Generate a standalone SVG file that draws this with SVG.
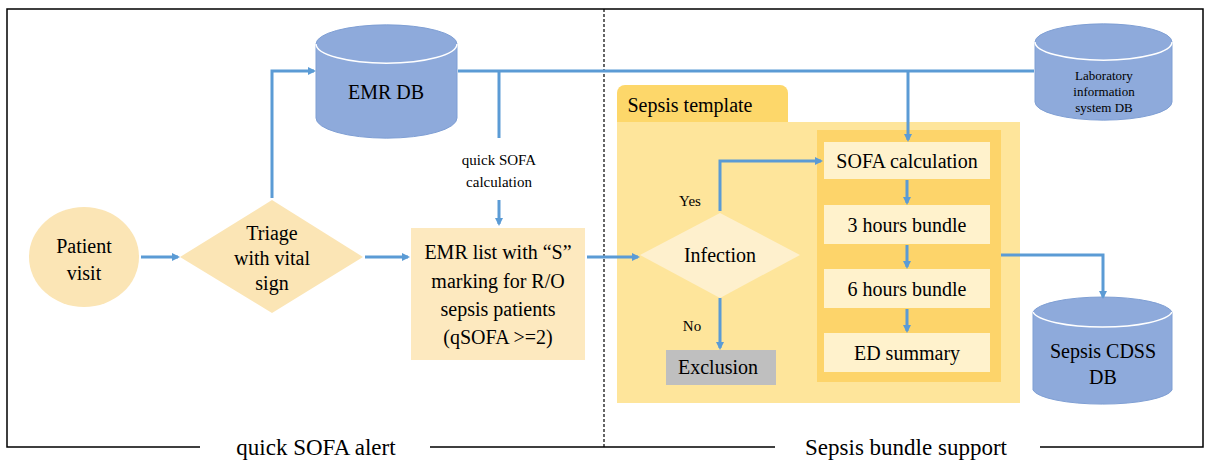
<svg xmlns="http://www.w3.org/2000/svg" width="1214" height="469" viewBox="0 0 1214 469" font-family="'Liberation Serif', 'Times New Roman', 'DejaVu Serif', serif">
<defs>
<marker id="ah" markerWidth="8" markerHeight="8" refX="6" refY="4" orient="auto" markerUnits="userSpaceOnUse"><path d="M0,0 L8,4 L0,8 Z" fill="#5b9bd5"/></marker>
<style>
text{font-family:'Liberation Serif','Times New Roman','DejaVu Serif',serif;fill:#000;text-anchor:middle}
.c{fill:none;stroke:#5b9bd5;stroke-width:3}
.db{fill:#8eaadb;stroke:#7f9fd4}
.t18{font-size:20px}
</style>
</defs>
<rect width="1214" height="469" fill="#fff"/>
<path d="M200,447 H7 V9 H1203 V447 H1040 M775,447 H430" fill="none" stroke="#000" stroke-width="1.5"/>
<line x1="604" y1="9" x2="604" y2="447" stroke="#000" stroke-width="1.2" stroke-dasharray="3,2"/>
<text x="316" y="455" font-size="23">quick SOFA alert</text>
<text x="906" y="455" font-size="23">Sepsis bundle support</text>
<g id="template">
<rect x="617" y="85" width="171" height="45" rx="8" fill="#fdd76a"/>
<rect x="617" y="122" width="403" height="281" fill="#fee59b"/>
<text x="690" y="112" font-size="20">Sepsis template</text>
<rect x="817" y="130" width="184" height="252" fill="#fdd46a"/>
</g>
<g id="patient"><ellipse cx="84" cy="257" rx="55" ry="50" fill="#fbe5b5"/><text x="84" y="253" class="t18">Patient</text><text x="84" y="280" class="t18">visit</text></g>
<g id="triage"><polygon points="272,200 363,257 272,313 180,257" fill="#fbe5b5"/><text x="272" y="240" class="t18">Triage</text><text x="272" y="265" class="t18">with vital</text><text x="272" y="290" class="t18">sign</text></g>
<g id="emrdb"><path d="M316,44 V118 A70,20 0 0 0 457,118 V44 A70,19 0 0 0 316,44 Z" class="db"/><path d="M316,44 A70,19 0 0 0 457,44" fill="none" stroke="#fff" stroke-width="1.5"/><text x="386" y="99" class="t18">EMR DB</text></g>
<g id="labdb"><path d="M1035,42 V102 A68,18 0 0 0 1172,102 V42 A68,18 0 0 0 1035,42 Z" class="db"/><path d="M1035,42 A68,18 0 0 0 1172,42" fill="none" stroke="#fff" stroke-width="1.5"/><text x="1104" y="80" font-size="13">Laboratory</text><text x="1104" y="96" font-size="13">information</text><text x="1104" y="112" font-size="13">system DB</text></g>
<g id="emrlist"><rect x="411" y="228" width="174" height="132" fill="#fde9bf"/><text x="498" y="259" class="t18">EMR list with “S”</text><text x="498" y="288" class="t18">marking for R/O</text><text x="498" y="316" class="t18">sepsis patients</text><text x="498" y="344" class="t18">(qSOFA &gt;=2)</text></g>
<g id="qlabel"><text x="499" y="165" font-size="15">quick SOFA</text><text x="499" y="187" font-size="15">calculation</text></g>
<g id="infection"><polygon points="720,213 800,255 720,298 640,255" fill="#fef0cd"/><text x="720" y="262" class="t18">Infection</text><text x="690" y="206" font-size="15">Yes</text><text x="692" y="331" font-size="15">No</text></g>
<g id="exclusion"><rect x="666" y="350" width="110" height="35" fill="#bfbfbf"/><text x="718" y="374" class="t18">Exclusion</text></g>
<g id="sofa"><rect x="824" y="142" width="166" height="37" fill="#fff2cc"/><text x="907" y="168" class="t18">SOFA calculation</text></g>
<g id="b3"><rect x="824" y="205" width="166" height="39" fill="#fff2cc"/><text x="907" y="232" class="t18">3 hours bundle</text></g>
<g id="b6"><rect x="824" y="269" width="166" height="39" fill="#fff2cc"/><text x="907" y="296" class="t18">6 hours bundle</text></g>
<g id="ed"><rect x="824" y="333" width="166" height="39" fill="#fff2cc"/><text x="907" y="360" class="t18">ED summary</text></g>
<g id="cdss"><path d="M1033,312 V390 A70,16 0 0 0 1172,390 V312 A70,17 0 0 0 1033,312 Z" class="db"/><path d="M1033,312 A70,17 0 0 0 1172,312" fill="none" stroke="#fff" stroke-width="1.5"/><text x="1103" y="358" class="t18">Sepsis CDSS</text><text x="1103" y="384" class="t18">DB</text></g>
<g id="connectors">
<path class="c" d="M141,257 H178" marker-end="url(#ah)"/>
<path class="c" d="M272,198 V71 H314" marker-end="url(#ah)"/>
<path class="c" d="M458,71 H1034"/>
<path class="c" d="M499,71 V138"/>
<path class="c" d="M499,200 V224" marker-end="url(#ah)"/>
<path class="c" d="M365,257 H408" marker-end="url(#ah)"/>
<path class="c" d="M587,257 H638" marker-end="url(#ah)"/>
<path class="c" d="M908,71 V140" marker-end="url(#ah)"/>
<path class="c" d="M720,211 V161 H821" marker-end="url(#ah)"/>
<path class="c" d="M720,298 V348" marker-end="url(#ah)"/>
<path class="c" d="M907,180 V203" marker-end="url(#ah)"/>
<path class="c" d="M907,245 V267" marker-end="url(#ah)"/>
<path class="c" d="M907,309 V331" marker-end="url(#ah)"/>
<path class="c" d="M1001,255 H1103 V297" marker-end="url(#ah)"/>
</g>
</svg>
